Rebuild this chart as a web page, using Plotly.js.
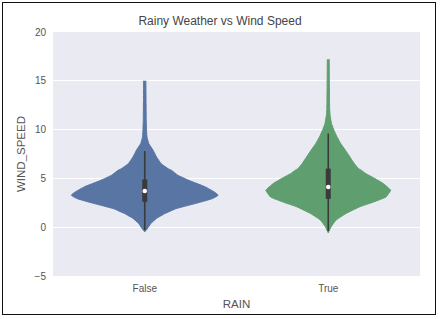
<!DOCTYPE html>
<html>
<head>
<meta charset="utf-8">
<script src="https://cdn.plot.ly/plotly-3.0.1.min.js"></script>
<style>
  html, body { margin: 0; padding: 0; background: #fff; }
  #wrap { position: relative; width: 440px; height: 319px; }
  #chart { width: 440px; height: 319px; }
  #frame { position: absolute; left: 2px; top: 2px; width: 432px; height: 311px; border: 1.5px solid #111; pointer-events: none; }
</style>
</head>
<body>
<div id="wrap"><div id="chart"></div><div id="frame"></div></div>
<script>
// Categories
const categories = ["False", "True"];

// Density profile: y levels and half-widths (in category units)
const falseY = [15.0, 13.0, 11.0, 9.9, 9.25, 8.57, 7.9, 7.2, 6.5, 6.0, 5.84, 5.33, 4.8, 4.13, 3.6, 3.28, 2.94, 2.6, 2.25, 1.9, 1.4, 0.9, 0.38, -0.13, -0.48];
const falseW = [0.006, 0.007, 0.008, 0.010, 0.012, 0.022, 0.045, 0.064, 0.09, 0.127, 0.145, 0.18, 0.24, 0.33, 0.38, 0.40, 0.37, 0.31, 0.24, 0.17, 0.11, 0.064, 0.033, 0.015, 0.0];
const trueY = [17.2, 15, 13, 12.0, 11.5, 10.6, 9.9, 9.25, 8.57, 7.9, 7.2, 6.5, 6.0, 5.84, 5.5, 4.98, 4.47, 3.79, 3.1, 2.6, 2.08, 1.4, 0.72, 0.03, -0.58];
const trueW = [0.005, 0.006, 0.007, 0.008, 0.010, 0.018, 0.032, 0.048, 0.068, 0.093, 0.118, 0.143, 0.165, 0.18, 0.204, 0.255, 0.30, 0.34, 0.315, 0.25, 0.17, 0.096, 0.042, 0.015, 0.0];

// Inner box statistics: [whisker low, Q1, median, Q3, whisker high]
const falseBox = [-0.3, 2.6, 3.7, 4.9, 7.8];
const trueBox = [-0.4, 2.9, 4.13, 6.0, 9.6];

// Tick labels
const yTicks = [-5, 0, 5, 10, 15, 20];

const colors = ["#5875a4", "#5f9e6e"];
const boxColor = "#3a3a3a";

function violinShape(center, ys, ws, color) {
  const x = [], y = [];
  for (let i = 0; i < ys.length; i++) { x.push(center + ws[i]); y.push(ys[i]); }
  for (let i = ys.length - 1; i >= 0; i--) { x.push(center - ws[i]); y.push(ys[i]); }
  return {
    type: "scatter", mode: "lines", x: x, y: y, fill: "toself",
    fillcolor: color, line: { color: color, width: 1, shape: "spline", smoothing: 0.3 },
    hoverinfo: "skip", showlegend: false
  };
}
function boxTraces(center, b) {
  return [
    { type: "scatter", mode: "lines", x: [center, center], y: [b[0], b[4]],
      line: { color: boxColor, width: 1.6 }, showlegend: false, hoverinfo: "skip" },
    { type: "scatter", mode: "lines", x: [center, center], y: [b[1], b[3]],
      line: { color: boxColor, width: 5 }, showlegend: false, hoverinfo: "skip" },
    { type: "scatter", mode: "markers", x: [center], y: [b[2]],
      marker: { color: "#ffffff", size: 4.5 }, showlegend: false, hoverinfo: "skip" }
  ];
}

const data = [
  violinShape(0, falseY, falseW, colors[0]),
  violinShape(1, trueY, trueW, colors[1]),
  ...boxTraces(0, falseBox),
  ...boxTraces(1, trueBox)
];

const layout = {
  width: 440, height: 319,
  margin: { l: 53, r: 20, t: 32, b: 43 },
  paper_bgcolor: "#ffffff",
  plot_bgcolor: "#eaeaf2",
  font: { family: "Liberation Sans, Arial, sans-serif", color: "#555" },
  title: { text: "Rainy Weather vs Wind Speed", font: { size: 12, color: "#444" }, x: 0.5, xanchor: "center", y: 0.935, yanchor: "middle" },
  xaxis: {
    range: [-0.5, 1.5], tickvals: [0, 1], ticktext: categories,
    showgrid: false, zeroline: false, showline: false, ticks: "",
    ticklabelstandoff: 5,
    tickfont: { size: 10, color: "#555" },
    title: { text: "RAIN", font: { size: 11.5, color: "#555" }, standoff: 6 }
  },
  yaxis: {
    range: [-5, 20], tickvals: yTicks,
    showgrid: true, gridcolor: "#ffffff", gridwidth: 1.2,
    zeroline: false, showline: false, ticks: "",
    ticklabelstandoff: 6,
    tickfont: { size: 10, color: "#555" },
    title: { text: "WIND_SPEED", font: { size: 11.5, color: "#555" }, standoff: 6 }
  },
  showlegend: false
};

Plotly.newPlot("chart", data, layout, { displayModeBar: false, staticPlot: true });
</script>
</body>
</html>
